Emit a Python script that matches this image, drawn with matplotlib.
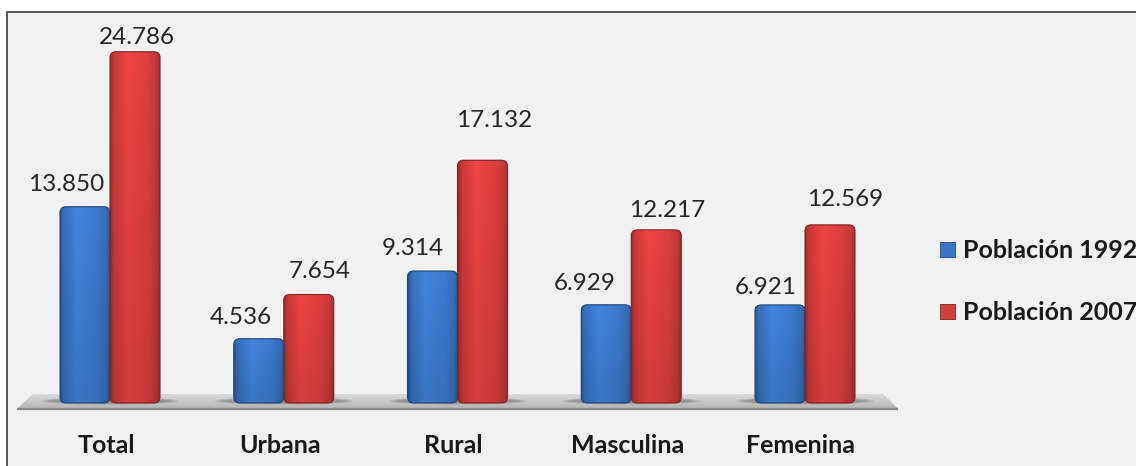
"""
Población 1992 vs 2007 -- Excel-style 3D clustered bars recreated in matplotlib.
Output: out.png (1136x466)
"""
import numpy as np
import matplotlib
matplotlib.use("Agg")
import matplotlib.pyplot as plt
from matplotlib.patches import FancyBboxPatch, Polygon, Rectangle, Ellipse
from matplotlib.colors import to_rgb

# ---- data -------------------------------------------------------------
categories = ["Total", "Urbana", "Rural", "Masculina", "Femenina"]
pob_1992 = [13.850, 4.536, 9.314, 6.929, 6.921]
pob_2007 = [24.786, 7.654, 17.132, 12.217, 12.569]
series_names = ["Población 1992", "Población 2007"]

# ---- layout (pixels) --------------------------------------------------
W, H, DPI = 1136, 466, 100
PX_X = 173.75          # px per category step
PX_Y = 14.17           # px per unit of value
X0_PX, Y0_PX = 110, 403  # px of category 0 centre / baseline (from top)
BAR_W = 50 / PX_X
XLIM = (-0.6, 4.6)
YLIM = (-1.5, 26.0)

# label nudges (dx, dy of baseline above bar top), excel 3d placement
nudge_1992 = [(-19, 16), (-18, 15), (-20, 16), (-22, 15), (-14, 11)]
nudge_2007 = [(2, 8), (11, 17), (12, 33), (11, 13), (15, 19)]

BLUE = "#3b77c8"
RED = "#d63d3d"
FONT = "Lato"

fig = plt.figure(figsize=(W / DPI, H / DPI), dpi=DPI, facecolor="white")

# chart area frame (light grey, dark edge, cropped right/bottom)
fig.patches.append(Rectangle((7 / W, -0.1), 1.2, 1.1 - 12.5 / H,
                             transform=fig.transFigure, facecolor="#f1f1f1",
                             edgecolor="#4a4a4a", lw=1.3, zorder=-5))

left = X0_PX + XLIM[0] * PX_X
right = X0_PX + XLIM[1] * PX_X
top = Y0_PX - YLIM[1] * PX_Y
bot = Y0_PX - YLIM[0] * PX_Y
ax = fig.add_axes([left / W, 1 - bot / H, (right - left) / W, (bot - top) / H])
ax.set_xlim(*XLIM)
ax.set_ylim(*YLIM)
ax.axis("off")
ax.patch.set_alpha(0)


def px2x(px):
    return (px - X0_PX) / PX_X


def px2y(py):
    return (Y0_PX - py) / PX_Y


# floor slab
ft, fb = px2y(394), px2y(409)
floor = Polygon([(px2x(33), ft), (px2x(883), ft), (px2x(898), fb), (px2x(17), fb)],
                closed=True, facecolor="#c4c4c4", edgecolor="none", zorder=1)
ax.add_patch(floor)
grad = np.linspace(0.86, 0.70, 30)[:, None] * np.ones((30, 2))
im = ax.imshow(np.dstack([grad] * 3), extent=(px2x(17), px2x(898), fb, ft),
               aspect="auto", zorder=1.1, interpolation="bilinear")
im.set_clip_path(floor)
ax.plot([px2x(17), px2x(898)], [fb, fb], color="#8a8a8a", lw=1.6, zorder=1.2,
        solid_capstyle="butt")

# shadows under each group
for i in range(len(categories)):
    for k, a in [(1.0, 0.10), (0.8, 0.12), (0.6, 0.14)]:
        sh = Ellipse((i, px2y(401)), 2 * BAR_W + 0.22 * k, 0.55 * k,
                     facecolor="#303030", edgecolor="none", alpha=a, zorder=1.3)
        sh.set_clip_path(floor)
        ax.add_patch(sh)


def shaded(color, ny=60, nx=40):
    base = np.array(to_rgb(color))
    xs = np.linspace(0, 1, nx)
    hor = np.interp(xs, [0, 0.06, 0.35, 0.75, 0.94, 1.0],
                    [0.70, 0.88, 1.06, 0.98, 0.86, 0.74])
    ys = np.linspace(0, 1, ny)[:, None]          # 0 = top
    ver = 1.06 - 0.12 * ys
    f = (hor[None, :] * ver)[..., None]
    return np.clip(base * f, 0, 1)


def draw_bar(x0, h, color):
    r = 6 / PX_X
    patch = FancyBboxPatch((x0, 0), BAR_W, h,
                           boxstyle=f"round,pad=0,rounding_size={r}",
                           mutation_aspect=PX_X / PX_Y,
                           facecolor=color, edgecolor="none", zorder=2)
    ax.add_patch(patch)
    img = ax.imshow(shaded(color), extent=(x0, x0 + BAR_W, 0, h), aspect="auto",
                    zorder=2.1, interpolation="bilinear")
    img.set_clip_path(patch)
    edge = FancyBboxPatch((x0, 0), BAR_W, h,
                          boxstyle=f"round,pad=0,rounding_size={r}",
                          mutation_aspect=PX_X / PX_Y, facecolor="none",
                          edgecolor=np.array(to_rgb(color)) * 0.6, lw=0.8,
                          zorder=2.2)
    ax.add_patch(edge)


for i, cat in enumerate(categories):
    for vals, nudges, color, x0 in [(pob_1992, nudge_1992, BLUE, i - BAR_W),
                                    (pob_2007, nudge_2007, RED, i)]:
        v = vals[i]
        draw_bar(x0, v, color)
        dx, dy = nudges[i]
        ax.annotate(f"{v:.3f}", xy=(x0 + BAR_W / 2, v), xytext=(dx, dy),
                    textcoords="offset pixels", ha="center", va="baseline",
                    fontsize=17.5, family=FONT, color="#262626", zorder=5)
    ax.annotate(cat, xy=(i, 0), xytext=(-4, -50), textcoords="offset pixels",
                ha="center", va="baseline", fontsize=18, fontweight="bold",
                family=FONT, color="#1a1a1a", zorder=5)

# legend (manual, like the excel one)
for name, color, base_y in [(series_names[0], BLUE, 258), (series_names[1], RED, 320)]:
    fig.patches.append(Rectangle((940 / W, 1 - (base_y - 1) / H), 15 / W, 15 / H,
                                 transform=fig.transFigure, facecolor=color,
                                 edgecolor=np.array(to_rgb(color)) * 0.6, lw=0.6,
                                 zorder=3))
    fig.text(963 / W, 1 - base_y / H, name, ha="left", va="baseline",
             fontsize=18, fontweight="bold", family=FONT, color="#1a1a1a")

fig.savefig("out.png", dpi=DPI, facecolor="white")
